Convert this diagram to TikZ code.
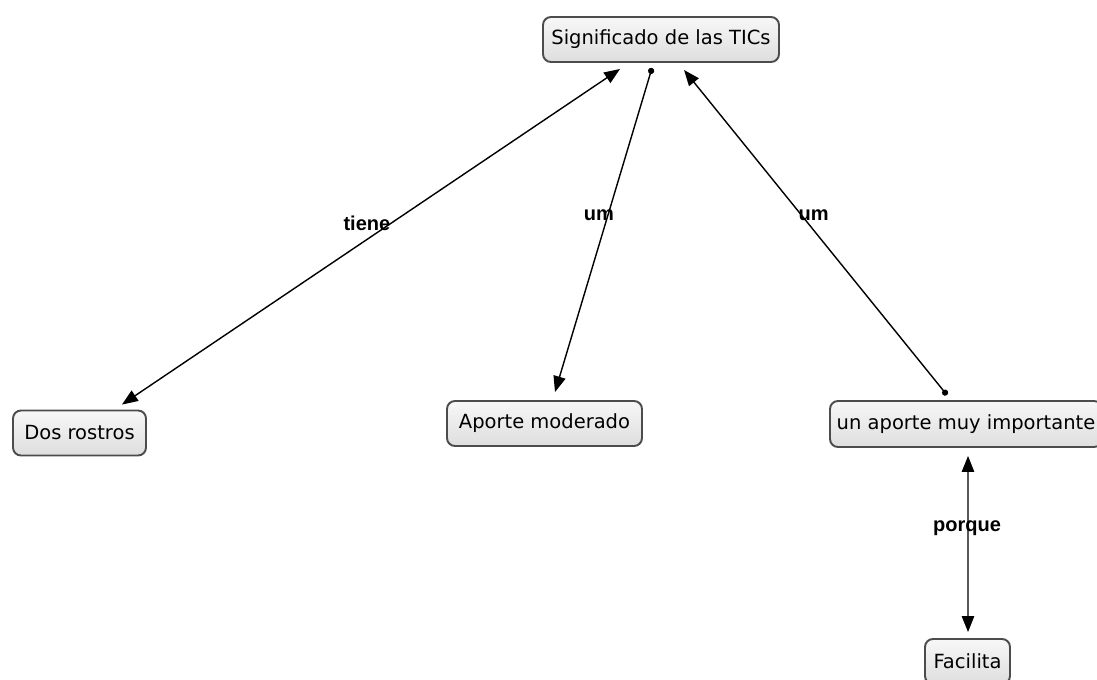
\documentclass[tikz,border=0pt]{standalone}
\usepackage{fontspec}
\setmainfont{DejaVu Sans}
\newfontfamily\motfont{Liberation Sans}
\usepackage{tikz}
\usetikzlibrary{arrows.meta,calc}
\tikzset{
Concepto/.style={
 draw=black!70, 
 line width=1.1pt, 
 rounded corners=0.16cm, 
 top color=black!3, 
 bottom color=black!13, 
 minimum height=0.9cm, 
 inner sep=0pt, 
 font=\fontsize{11.1}{13}\selectfont
 },
DobleFlecha/.style={
 draw=black, 
 line width=0.8pt, 
 {Triangle[length=9pt,width=7pt]}-{Triangle[length=9pt,width=7pt]}
 },
PuntoFlecha/.style={
 draw=black, 
 line width=0.8pt, 
 {Circle[length=3.5pt]}-{Triangle[length=9pt,width=7pt]}
 },
Palabra/.style={
 font=\motfont\bfseries\fontsize{11.4}{13}\selectfont, 
 inner sep=0pt
 }
}
\begin{document}
\begin{tikzpicture}
\useasboundingbox (0,0) rectangle (21.94,-13.6);
% conceptos
\node[Concepto,minimum width=4.72cm] (sig) at (13.22,-0.79) {Significado de las TICs};
\node[Concepto,minimum width=2.66cm] (dos) at (1.59,-8.66) {Dos rostros};
\node[Concepto,minimum width=3.9cm] (apo) at (10.89,-8.47) {Aporte moderado};
\node[Concepto,minimum width=5.44cm,minimum height=0.92cm] (imp) at (19.32,-8.48) {un aporte muy importante};
\node[Concepto,minimum width=1.7cm] (fac) at (19.35,-13.23) {Facilita};
% enlaces
\draw[DobleFlecha] ($(dos.north)+(0.85,0.10)$) -- node[Palabra,pos=0.54,xshift=-0.48cm] {tiene} ($(sig.south)+(-0.82,-0.12)$);
\draw[PuntoFlecha] ($(sig.south)+(-0.18,-0.10)$) -- node[Palabra,pos=0.454,xshift=-0.18cm] {um} ($(apo.north)+(0.21,0.16)$);
\draw[PuntoFlecha] ($(imp.north)+(-0.38,0.10)$) -- node[Palabra,pos=0.553,xshift=0.24cm] {um} ($(sig.south)+(0.46,-0.14)$);
\draw[DobleFlecha] ($(imp.south)+(0.04,-0.16)$) -- node[Palabra,pos=0.41,xshift=-0.02cm] {porque} ($(fac.north)+(0.01,0.12)$);
\end{tikzpicture}
\end{document}
